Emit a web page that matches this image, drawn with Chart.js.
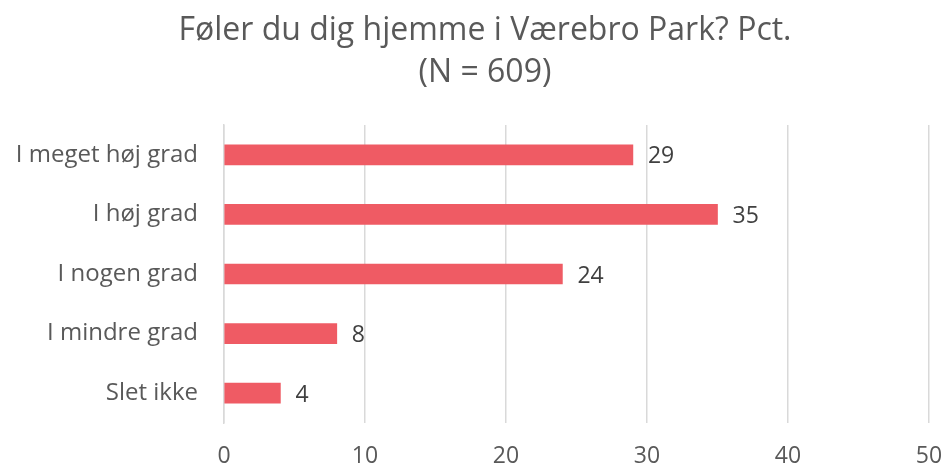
<!DOCTYPE html>
<html>
<head>
<meta charset="utf-8">
<script src="https://cdn.jsdelivr.net/npm/chart.js@4"></script>
<style>
  html, body { margin: 0; padding: 0; background: #fff; }
  #wrap { width: 944px; height: 468px; }
</style>
</head>
<body>
<div id="wrap"><canvas id="myChart"></canvas></div>
<script>
const categories = ['I meget høj grad', 'I høj grad', 'I nogen grad', 'I mindre grad', 'Slet ikke'];
const values = [29, 35, 24, 8, 4];
const xTicks = [0, 10, 20, 30, 40, 50];
const titleLines = ['Føler du dig hjemme i Værebro Park? Pct.', '(N = 609)'];

// egen lille plugin til tal ved enden af søjlerne + titel
const barLabels = {
    id: 'barLabels',
    afterDatasetsDraw(chart) {
        const ctx = chart.ctx;
        ctx.save();
        ctx.font = '23px "Open Sans"';
        ctx.fillStyle = '#404040';
        ctx.textBaseline = 'middle';
        ctx.textAlign = 'left';
        chart.getDatasetMeta(0).data.forEach((bar, i) => {
            ctx.fillText(values[i], bar.x + 15, bar.y + 2);
        });
        ctx.font = '32px "Open Sans"';
        ctx.fillStyle = '#595959';
        ctx.textAlign = 'center';
        titleLines.forEach((t, i) => {
            ctx.fillText(t, 485, 31 + i * 42);
        });
        ctx.restore();
    }
};

new Chart(document.getElementById('myChart'), {
    type: 'bar',
    data: {
        labels: categories,
        datasets: [{
            data: values,
            backgroundColor: '#EF5B64',
            barThickness: 20
        }]
    },
    options: {
        indexAxis: 'y',
        responsive: true,
        maintainAspectRatio: false,
        animation: false,
        layout: { padding: { left: 0, right: 15, top: 125, bottom: 0 } },
        plugins: {
            legend: { display: false },
            tooltip: { enabled: false },
            title: { display: false }
        },
        scales: {
            x: {
                min: 0,
                max: 50,
                afterBuildTicks: (scale) => { scale.ticks = xTicks.map(v => ({ value: v })); },
                grid: { color: '#d9d9d9', lineWidth: 1.5, drawTicks: false },
                border: { display: false },
                ticks: { color: '#595959', padding: 20, font: { family: 'Open Sans', size: 23 } },
                afterFit: (scale) => { scale.height = 45; scale.paddingRight = 0; }
            },
            y: {
                grid: { display: false, drawTicks: false },
                border: { display: true, color: '#d9d9d9', width: 1.5 },
                ticks: { color: '#595959', padding: 26, font: { family: 'Open Sans', size: 24 } },
                afterFit: (scale) => { scale.width = 224; }
            }
        }
    },
    plugins: [barLabels]
});
</script>
</body>
</html>
